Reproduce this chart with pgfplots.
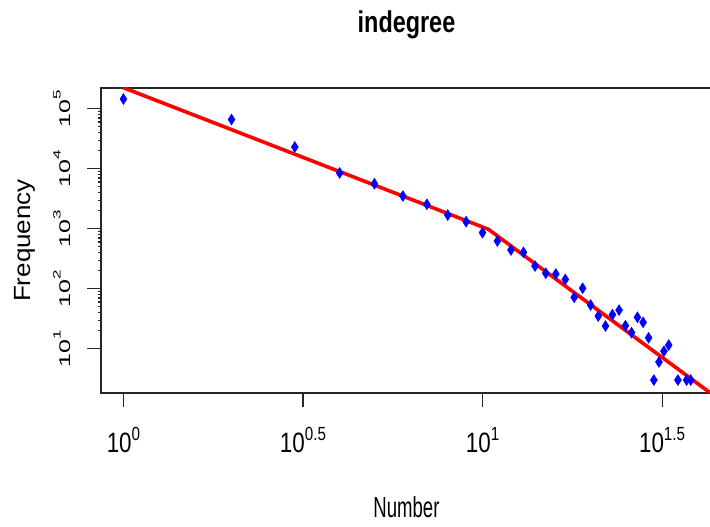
\documentclass[border=0pt]{standalone}
\usepackage{fontspec}
\setmainfont{Liberation Sans}
\newfontfamily\tickfont[FakeStretch=0.8]{Liberation Sans}
\newfontfamily\labfont[FakeStretch=0.64]{Liberation Sans}
\newfontfamily\titfont[FakeStretch=0.78]{Liberation Sans}
\usepackage{pgfplots}
\pgfplotsset{compat=1.18}
\newcommand{\xt}[1]{{\tickfont\fontsize{28}{30}\selectfont 10\raisebox{0.45em}{\fontsize{19}{20}\selectfont #1}}}
\newcommand{\yt}[1]{\scalebox{1}[0.62]{\fontsize{25}{27}\selectfont 10\raisebox{0.6em}{\fontsize{17}{18}\selectfont #1}}}
\pgfplotstableread{
n f
1 145000
2 66000
3 23000
4 8500
5 5600
6 3500
7 2550
8 1690
9 1310
10 858
11 623
12 442
13 404
14 239
15 181
16 176
17 143
18 72
19 102
20 53.5
21 35
22 23.9
23 36.9
24 44
25 24.2
26 18.5
27 33.4
28 27.5
29 15.2
30 3
31 6
32 9.1
33 11.5
35 3
37 3
38 3
}\pts
\pgfplotstableread{
n f
1 224000
10.38 978
50 0.95
}\fitline
\begin{document}
\begin{tikzpicture}
\path[use as bounding box] (0,0) rectangle (710pt,527pt);
\begin{axis}[
  at={(101pt,134pt)}, anchor=south west,
  scale only axis, width=611pt, height=305pt,
  xmode=log, ymode=log,
  xmin=0.866, xmax=43.55, ymin=1.828, ymax=221300,
  axis line style={line width=1.2pt, black!85},
  tick pos=left, tick align=outside,
  major tick length=14pt,
  tick style={line width=1.1pt, black!85},
  minor tick num=0,
  xtick={1,3.16228,10,31.6228},
  xticklabels={\xt{0},\xt{0.5},\xt{1},\xt{1.5}},
  ytick={10,100,1000,10000,100000},
  yticklabels={\yt{1},\yt{2},\yt{3},\yt{4},\yt{5}},
  xticklabel style={anchor=base, yshift=-46pt},
  yticklabel style={anchor=base, xshift=-17pt, rotate=90},
  title={\titfont\bfseries\fontsize{30}{32}\selectfont indegree},
  title style={at={(axis description cs:0.5,1.1607)}, anchor=base},
  xlabel={\labfont\fontsize{29}{31}\selectfont Number},
  xlabel style={at={(axis description cs:0.5,-0.4098)}, anchor=base},
  ylabel={\fontsize{26}{28}\selectfont\scalebox{1}[0.9]{Frequency}},
  ylabel style={at={(axis description cs:-0.1162,0.5)}, anchor=base, rotate=0},
]
\addplot[only marks, mark=diamond*, mark size=5.5pt, color=blue, mark options={xscale=0.85}] table[x=n,y=f]{\pts};
\addplot[red, line width=3.6pt, no marks] table[x=n,y=f]{\fitline};
\end{axis}
\end{tikzpicture}
\end{document}
